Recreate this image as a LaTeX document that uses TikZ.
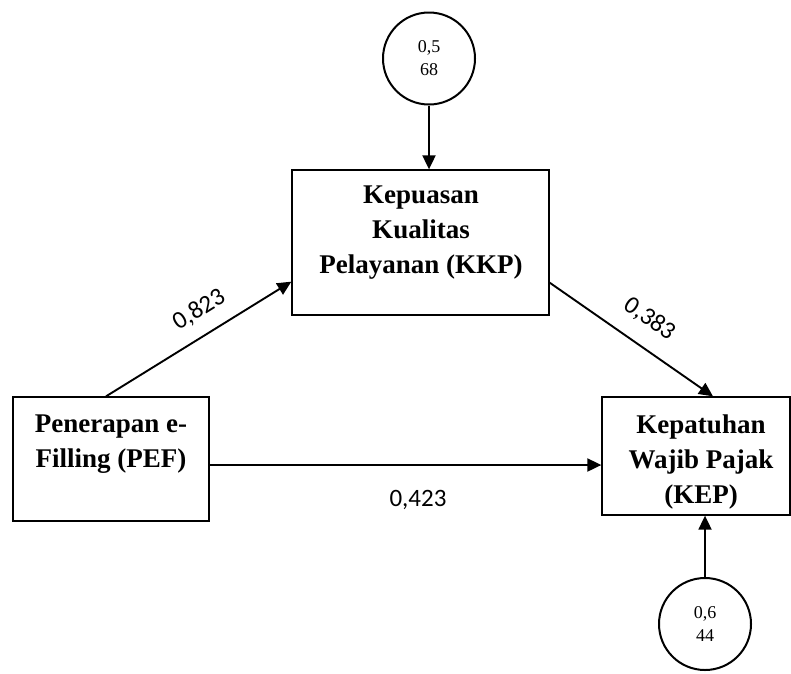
\documentclass[tikz,border=0pt]{standalone}
\usepackage{fontspec}
\setmainfont{Liberation Serif}
\newfontfamily\labfont{Carlito}
\usetikzlibrary{arrows.meta}
\tikzset{
  boxnode/.style={draw, line width=1.3pt, rectangle, inner sep=0pt},
  boxtext/.style={anchor=north, align=center, inner sep=0pt, font=\fontsize{27}{35}\selectfont\bfseries},
  errnode/.style={draw, circle, line width=2pt, inner sep=0pt, minimum size=92pt, align=center, font=\fontsize{18}{23}\selectfont},
  coef/.style={font=\labfont\fontsize{25}{30}\selectfont, inner sep=0pt},
  arr/.style={line width=1.9pt, -{Triangle[length=14pt,width=13pt]}}
}
\begin{document}
\begin{tikzpicture}[x=1pt,y=-1pt]
\useasboundingbox (0,0) rectangle (791,673);
% boxes
\node[boxnode, minimum width=257pt, minimum height=145pt] (kkp) at (420.5,242.5) {};
\node[boxnode, minimum width=196pt, minimum height=124pt] (pef) at (111,459) {};
\node[boxnode, minimum width=188pt, minimum height=118pt] (kep) at (696,456) {};
% box texts
\node[boxtext] (kkpt) at (421,186) {Kepuasan\\Kualitas\\Pelayanan (KKP)};
\node[boxtext] (peft) at (111,415) {Penerapan e-\\Filling (PEF)};
\node[boxtext] (kept) at (701,415) {Kepatuhan\\Wajib Pajak\\(KEP)};
% error circles
\node[errnode] (e1) at (429,58.5) {0,5\\68};
\node[errnode] (e2) at (705,624) {0,6\\44};
% connectors
\draw[arr] (e1.south) -- (e1.south |- kkp.north);
\draw[arr] (e2.north) -- (e2.north |- kep.south);
\draw[arr] ([xshift=-5pt]pef.north) -- ([yshift=34pt]kkp.south west);
\draw[arr] ([yshift=33pt]kkp.south east) -- ([xshift=17pt]kep.north);
\coordinate (hstart) at ([yshift=-6pt]pef.east);
\draw[arr] (hstart) -- (hstart -| kep.west);
% coefficients
\node[coef, rotate=32] (c1) at (199,310) {0,823};
\node[coef, rotate=-35] (c2) at (650,319) {0,383};
\node[coef] (c3) at (418,500) {0,423};
\end{tikzpicture}
\end{document}
